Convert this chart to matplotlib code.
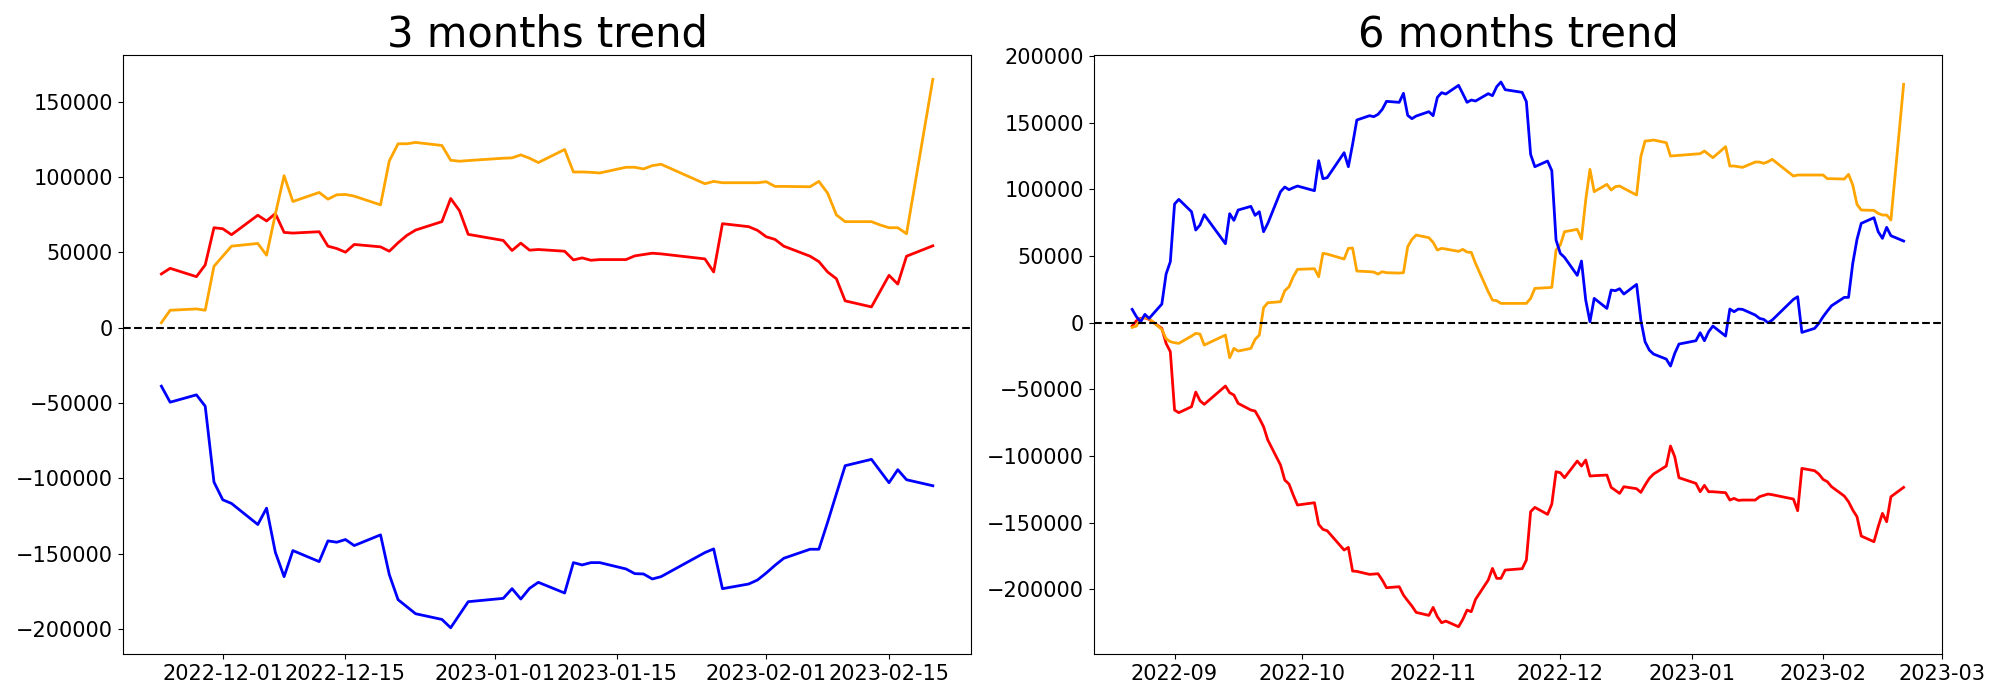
import matplotlib
matplotlib.use("Agg")
import matplotlib.pyplot as plt
import matplotlib.dates as mdates
import pandas as pd

# KRX holidays inside the plotted period
holidays = ["2022-09-09", "2022-09-12", "2022-10-03", "2022-10-10",
            "2022-12-30", "2023-01-23", "2023-01-24"]

dates_3m = pd.bdate_range("2022-11-24", "2023-02-20", freq="C", holidays=holidays)
dates_6m = pd.bdate_range("2022-08-22", "2023-02-20", freq="C", holidays=holidays)

# ---- 3 months ----
red_3m = [35700, 39450, 33900, 41700, 66400,
          65750, 61750,
          74700, 70900, 75800, 63300, 62850,
          63750, 54150, 52600, 50150, 55300,
          53700, 50800, 56400, 61300, 64850,
          70450, 85800, 77800, 62000,
          57950, 51270, 56170, 51500, 51940,
          50800, 45030, 46360, 44800, 45250,
          45250, 47700, 48600, 49480, 49040,
          45700, 37000, 69100,
          67100, 64640, 60400, 58620, 54160,
          47480, 43910, 37000, 32540, 17830,
          13820, 24300, 34770, 28980, 47480,
          54390]
orange_3m = [3340, 11590, 12480, 11590, 40790,
             47480, 54160,
             55950, 48150, 75340, 100970, 83810,
             89830, 85370, 88270, 88490, 87380,
             81580, 110780, 122150, 122150, 123040,
             121030, 111230, 110560, 111000,
             112560, 112790, 114790, 112560, 109670,
             118360, 103430, 103430, 103200, 102760,
             106550, 106550, 105430, 107660, 108550,
             95620, 97180, 96290,
             96290, 96290, 96960, 93840, 93840,
             93620, 97180, 89380, 74890, 70440,
             70440, 68210, 66420, 66420, 62410,
             164950]
blue_3m = [-38820, -49470, -44590, -52130, -102510,
           -114270, -116710,
           -130700, -119820, -149120, -165320, -148010,
           -155330, -141570, -142460, -140680, -144680,
           -137570, -163990, -180630, -185290, -189950,
           -193730, -199270, -190620, -181960,
           -179740, -173310, -180190, -173090, -169090,
           -176190, -156000, -157550, -156000, -156000,
           -160210, -163320, -163540, -166870, -165320,
           -149340, -146900, -173310,
           -170200, -167540, -162880, -157770, -153110,
           -147120, -147120, -129140, -110280, -91640,
           -87420, -95190, -102950, -94300, -100960,
           -104950]

# ---- 6 months ----
red_6m = [-2500, 1500, 3250, 3750, 2500,
          -4250, -15480, -21730, -65490, -67490,
          -62990, -51990, -58490, -61240,
          -47490, -52490, -54240, -60490,
          -65490, -66240, -71740, -77990, -88000,
          -106750, -118010, -121010, -129260, -136760,
          -135010, -151260, -155010, -156010,
          -170520, -168520, -186270, -186520,
          -188770, -188520, -188270, -193020, -198780,
          -198030, -204280, -208530, -212530, -217280,
          -219530, -213530, -220530, -225030, -223790,
          -228040, -222530, -215530, -216780, -207530,
          -193020, -184270, -191770, -191770, -185530,
          -184780, -184530, -178020, -141760, -138510,
          -143760, -136010, -111760, -112510, -116260,
          -103750, -107500, -103000, -115010, -114760,
          -114260, -123510, -125760, -128010, -123010,
          -124510, -127260, -121760, -116760, -113510,
          -107500, -92500, -100500, -116260,
          -120510, -126760, -122010, -126760, -126760,
          -127510, -133010, -131760, -133260, -133010,
          -133010, -130510, -129510, -128510, -129010,
          -132260, -141010, -109260,
          -111010, -113510, -117510, -119260, -123010,
          -130010, -134260, -140510, -145520, -160020,
          -164270, -153020, -143010, -149270, -130510,
          -123510]
orange_6m = [-3500, -2500, 2500, 4000, 3000,
             -5000, -12000, -14250, -15000, -15500,
             -10000, -8000, -8500, -16750,
             -9250, -26260, -19260, -21260,
             -19260, -12500, -9250, 11250, 15000,
             15750, 24000, 27000, 34500, 40010,
             40510, 34500, 52010, 51510,
             47760, 55770, 56020, 38760,
             38260, 38010, 36510, 38260, 37510,
             37260, 37510, 57020, 62520, 65770,
             63770, 60270, 54520, 55770, 55270,
             53510, 55020, 53010, 52760, 44510,
             23260, 17000, 16500, 14500, 14500,
             14500, 14500, 14500, 18250, 25760,
             26260, 26510, 54520, 58270, 68270,
             70020, 62770, 92030, 115030, 98280,
             103780, 99530, 102030, 102530, 100780,
             95780, 124530, 136290, 136540, 137040,
             135040, 125040, 125280, 125540,
             126540, 126790, 128790, 126290, 123790,
             132040, 117530, 117530, 117030, 116530,
             120530, 120530, 119530, 120780, 122530,
             110030, 110780, 110780,
             110780, 110780, 110780, 108030, 108030,
             107780, 111280, 103280, 88770, 84520,
             84270, 82020, 80770, 80770, 77020,
             178800]
blue_6m = [10000, 4500, 750, 6250, 3250,
           14000, 36500, 45760, 89020, 92530,
           83270, 69520, 73270, 81020,
           59270, 81770, 76770, 84520,
           87270, 80520, 83270, 68270, 74520,
           98280, 101780, 99780, 101280, 102530,
           99030, 121530, 108030, 108780,
           127540, 117030, 133790, 152040,
           155290, 154540, 156290, 160040, 166050,
           165300, 172050, 155540, 153040, 155040,
           158290, 155290, 169050, 172550, 171550,
           178050, 171800, 165300, 167050, 166300,
           171800, 170300, 177050, 180550, 174800,
           173300, 172800, 165800, 126290, 117030,
           121280, 114030, 62020, 52010, 49010,
           35510, 46260, 17000, 750, 18250,
           10750, 24510, 24010, 25510, 21510,
           28760, 2000, -14250, -20510, -23510,
           -27260, -32510, -23010, -16000,
           -13500, -7500, -13500, -6750, -2500,
           -10000, 10250, 8250, 10250, 10000,
           5750, 3250, 2500, 0, 2000,
           17500, 19500, -7250,
           -4250, -500, 4500, 8750, 12750,
           19000, 19000, 44510, 62520, 74520,
           78770, 68270, 63270, 71520, 65270,
           61270]

fig, axes = plt.subplots(1, 2, figsize=(20, 7), dpi=100)
plt.subplots_adjust(left=0.0614, right=0.9711, bottom=0.0657, top=0.9214, wspace=0.144)

ax = axes[0]
ax.plot(dates_3m, red_3m, color='red', linewidth=2)
ax.plot(dates_3m, orange_3m, color='orange', linewidth=2)
ax.plot(dates_3m, blue_3m, color='blue', linewidth=2)
ax.axhline(0, color='black', linestyle='--', linewidth=1.5)
ax.set_title('3 months trend', fontsize=30)
ax.set_ylim(-216700, 181100)
ax.xaxis.set_major_locator(mdates.DayLocator(bymonthday=[1, 15]))
ax.xaxis.set_major_formatter(mdates.DateFormatter('%Y-%m-%d'))
ax.tick_params(labelsize=15)

ax = axes[1]
ax.plot(dates_6m, red_6m, color='red', linewidth=2)
ax.plot(dates_6m, orange_6m, color='orange', linewidth=2)
ax.plot(dates_6m, blue_6m, color='blue', linewidth=2)
ax.axhline(0, color='black', linestyle='--', linewidth=1.5)
ax.set_title('6 months trend', fontsize=30)
ax.set_ylim(-248500, 200800)
ax.xaxis.set_major_locator(mdates.MonthLocator())
ax.xaxis.set_major_formatter(mdates.DateFormatter('%Y-%m'))
ax.tick_params(labelsize=15)

plt.savefig('out.png', dpi=100)
